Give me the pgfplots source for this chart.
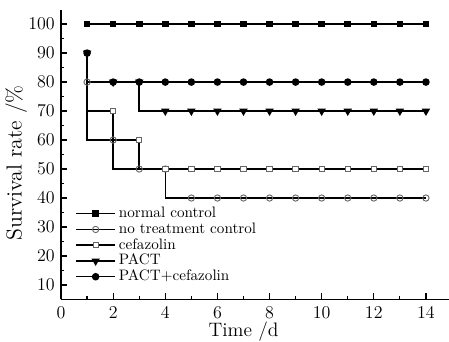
\documentclass[border=0pt,12pt]{standalone}
\usepackage{pgfplots}
\pgfplotsset{compat=1.18}
\begin{document}
\begin{tikzpicture}
\begin{axis}[
 name=ax,
 scale only axis, width=260.7pt, height=193.3pt,
 xmin=0, xmax=15, ymin=5, ymax=105,
 axis x line*=bottom, axis y line*=left,
 axis line style={line width=0.8pt, -},
 tick align=inside,
 xtick={0,2,...,14}, minor xtick={1,3,...,13},
 ytick={10,20,...,100}, minor ytick={5,15,...,95},
 major tick length=4pt, minor tick length=2.2pt,
 every tick/.style={black, line width=0.8pt},
 tick label style={font=\fontsize{13}{15}\selectfont},
 xticklabel style={inner ysep=1pt, yshift=-3.5pt},
 xlabel={Time /d}, ylabel={Survival rate /\%},
 xlabel style={font=\fontsize{13}{15}\selectfont, at={(axis description cs:0.4667,0)}, anchor=north,
   inner ysep=0.5pt, text depth=0pt, yshift=-14pt},
 ylabel style={font=\fontsize{14.5}{16}\selectfont, at={(axis description cs:-0.115,0.471)}, anchor=center},
 legend style={at={(axis cs:0.54,37.4)}, anchor=north west, draw=none, fill=none, inner sep=0pt,
   font=\fontsize{10.1}{12}\selectfont,
   nodes={inner ysep=0.5pt, inner xsep=2pt, text height=7.3pt, text depth=2.2pt}},
 legend cell align=left,
 legend image code/.code={\draw[mark repeat=2,mark phase=2] plot coordinates {(0pt,0pt)(13pt,0pt)(26pt,0pt)};},
 every axis plot/.append style={black, line width=1pt, const plot mark right},
]
\addplot[mark=square*, mark size=1.7pt, mark options={solid}] coordinates {
 (1,100)(2,100)(3,100)(4,100)(5,100)(6,100)(7,100)(8,100)(9,100)(10,100)(11,100)(12,100)(13,100)(14,100)};
\addlegendentry{normal control}
\addplot[mark=o, mark size=2.1pt, mark options={fill=white, draw=black!60, line width=0.6pt}] coordinates {
 (1,80)(2,60)(3,50)(4,50)(5,40)(6,40)(7,40)(8,40)(9,40)(10,40)(11,40)(12,40)(13,40)(14,40)};
\addlegendentry{no treatment control}
\addplot[mark=square*, mark size=1.8pt, mark options={fill=white, draw=black!60, line width=0.6pt}] coordinates {
 (1,90)(2,70)(3,60)(4,50)(5,50)(6,50)(7,50)(8,50)(9,50)(10,50)(11,50)(12,50)(13,50)(14,50)};
\addlegendentry{cefazolin}
\addplot[mark=triangle*, mark size=2.3pt, mark options={rotate=180}] coordinates {
 (1,90)(2,80)(3,80)(4,70)(5,70)(6,70)(7,70)(8,70)(9,70)(10,70)(11,70)(12,70)(13,70)(14,70)};
\addlegendentry{PACT}
\addplot[mark=*, mark size=2pt] coordinates {
 (1,90)(2,80)(3,80)(4,80)(5,80)(6,80)(7,80)(8,80)(9,80)(10,80)(11,80)(12,80)(13,80)(14,80)};
\addlegendentry{PACT+cefazolin}
\end{axis}
\pgfresetboundingbox
\path ([shift={(-40.7pt,-28pt)}]ax.south west) rectangle ([shift={(-2pt,6.4pt)}]ax.north east);
\end{tikzpicture}
\end{document}
